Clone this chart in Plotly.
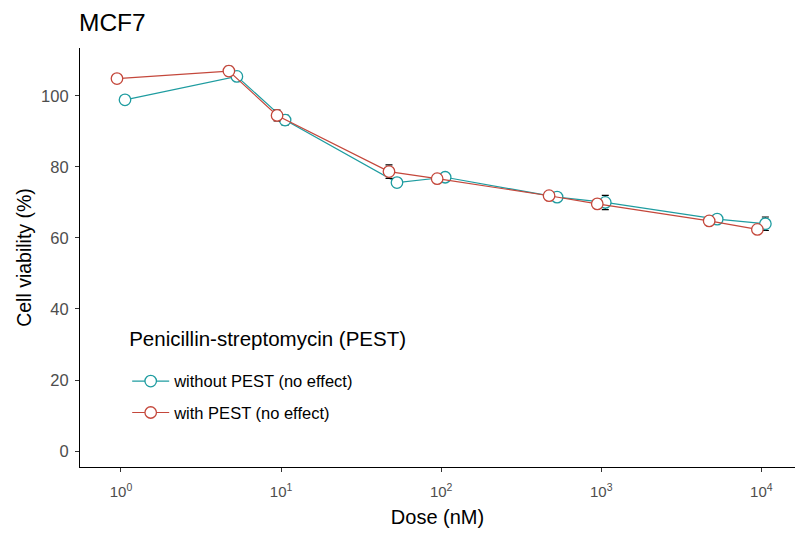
import numpy as np
import plotly.graph_objects as go

# Dose-response of MCF7 cells, with and without penicillin-streptomycin
doses = [1, 5, 10, 50, 100, 500, 1000, 5000, 10000]

without_pest = [98.9, 105.5, 93.2, 75.6, 77.1, 71.5, 70.0, 65.3, 64.0]
without_pest_sd = [0.8, 1.0, 1.4, 1.2, 0.9, 0.8, 2.0, 0.8, 1.9]

with_pest = [104.9, 107.0, 94.5, 78.7, 76.7, 71.9, 69.6, 64.8, 62.4]
with_pest_sd = [0.9, 1.3, 1.5, 1.9, 1.0, 0.7, 1.0, 0.8, 0.9]

tick_vals = [1, 10, 100, 1000, 10000]
tick_text = ["10<sup>0</sup>", "10<sup>1</sup>", "10<sup>2</sup>",
             "10<sup>3</sup>", "10<sup>4</sup>"]

legend_title = "Penicillin-streptomycin (PEST)"

teal = "#1E9CA0"
red = "#C4473B"
font_family = "Liberation Sans, Arial, sans-serif"

# horizontal dodge of the two groups (in decades on the log axis)
dodge = 0.025


def series(name, y, sd, color, shift, group):
    x = np.array(doses, dtype=float) * 10 ** shift
    return go.Scatter(
        x=x, y=y, name=name, legendgroup=group,
        mode="lines+markers",
        line=dict(color=color, width=1.2),
        marker=dict(symbol="circle", size=11.5, color="white",
                    line=dict(color=color, width=1.3)),
        error_y=dict(type="data", array=sd, visible=True,
                     color="black", thickness=1.2, width=3.5),
    )


fig = go.Figure()
fig.add_trace(series("without PEST (no effect)", without_pest, without_pest_sd,
                     teal, dodge, "a"))
fig.add_trace(series("with PEST (no effect)", with_pest, with_pest_sd,
                     red, -dodge, "b"))

fig.update_layout(
    width=798, height=533,
    margin=dict(l=80, r=3, t=48, b=66),
    plot_bgcolor="white", paper_bgcolor="white",
    font=dict(family=font_family, color="black"),
    title=dict(text="MCF7", x=79 / 798, xanchor="left", y=0.958, yanchor="middle",
               font=dict(size=24.5, color="black", family=font_family)),
    showlegend=True,
    legend=dict(
        # larger first line plus a short spacer line below the title
        title=dict(text=f"<span style='font-size:20.5px'>{legend_title}</span><br> ",
                   font=dict(size=13.5, color="black")),
        x=0.066, xanchor="left", y=0.33, yanchor="top",
        bgcolor="rgba(255,255,255,0)",
        font=dict(size=16.5, color="black"),
        traceorder="grouped", tracegroupgap=7,
        itemwidth=37,
    ),
)

fig.update_xaxes(
    type="log", range=[-0.256, 4.21],
    tickmode="array", tickvals=tick_vals, ticktext=tick_text,
    ticks="outside", ticklen=4, tickwidth=1, tickcolor="#333333",
    tickfont=dict(size=15, color="#4D4D4D"),
    ticklabelstandoff=7,
    showline=True, linecolor="black", linewidth=1.2,
    showgrid=False, zeroline=False,
    title=dict(text="Dose (nM)", font=dict(size=20, color="black"), standoff=10),
)
fig.update_yaxes(
    range=[-4.5, 113.5],
    tickmode="array", tickvals=[0, 20, 40, 60, 80, 100],
    ticks="outside", ticklen=4, tickwidth=1, tickcolor="#333333",
    tickfont=dict(size=16.5, color="#4D4D4D"),
    ticklabelstandoff=3,
    showline=True, linecolor="black", linewidth=1.2,
    showgrid=False, zeroline=False,
    title=dict(text="Cell viability (%)", font=dict(size=19.5, color="black"), standoff=4),
)

fig.write_html("out.html")
